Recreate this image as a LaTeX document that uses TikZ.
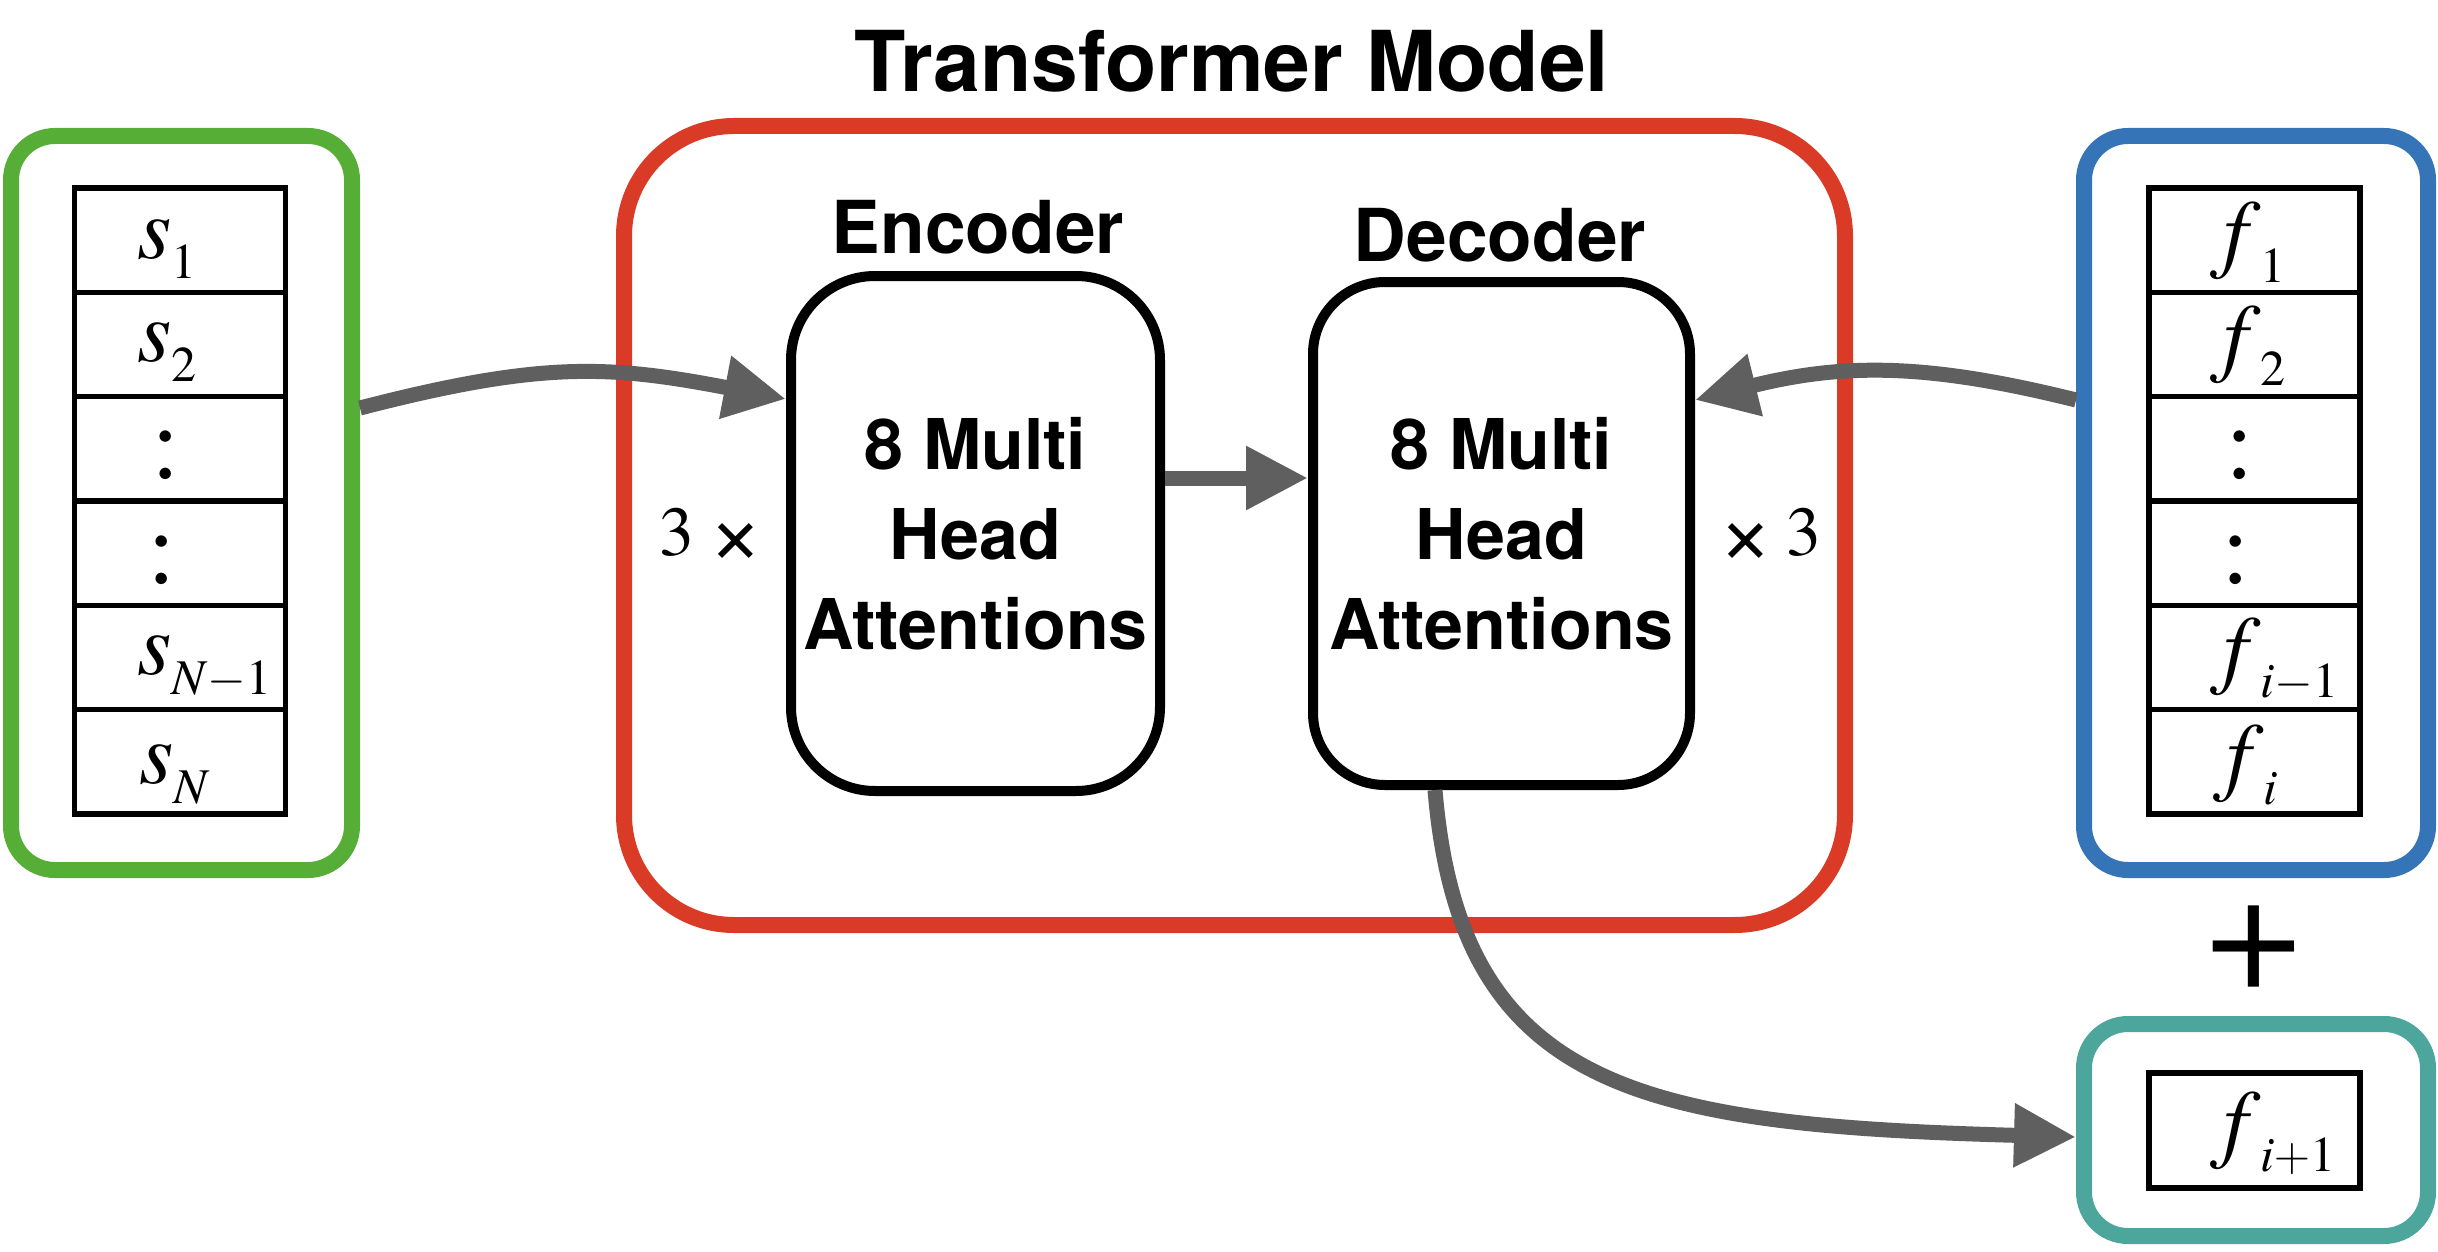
\documentclass[tikz,border=0pt]{standalone}
\usepackage{fontspec}
\setmainfont{texgyretermes}[Extension=.otf, UprightFont=*-regular, ItalicFont=*-italic, BoldFont=*-bold, BoldItalicFont=*-bolditalic]
\newfontfamily\hv{TeX Gyre Heros}
\usetikzlibrary{arrows.meta}
\definecolor{cgreen}{HTML}{56AE36}
\definecolor{cred}{HTML}{D93B27}
\definecolor{cblue}{HTML}{3574B6}
\definecolor{cteal}{HTML}{4CA69C}
\definecolor{cgray}{HTML}{5F5F5F}
\newcommand\mlab[2]{\textit{#1}\raisebox{-10pt}{\fontsize{25}{25}\selectfont #2}}
\newcommand\bigx{\raisebox{-4pt}{\fontsize{45}{45}\selectfont ×}}
\begin{document}
\begin{tikzpicture}[x=0.5pt,y=-0.5pt,
  frame/.style={draw, line width=8pt, rounded corners=22pt, inner sep=0pt},
  row/.style={draw, line width=2.75pt, inner sep=0pt, minimum width=105.5pt, minimum height=52.17pt},
  block/.style={draw, line width=5pt, inner sep=0pt, align=center, font=\hv\bfseries\fontsize{35}{45}\selectfont},
  lab/.style={font=\fontsize{44}{44}\selectfont, anchor=base west, inner sep=0pt},
  vdot/.style={font=\fontsize{52}{52}\selectfont, anchor=base, inner sep=0pt},
  head/.style={font=\hv\bfseries\fontsize{36.5}{36.5}\selectfont, anchor=base, inner sep=0pt},
  times/.style={font=\fontsize{35}{35}\selectfont, anchor=base, inner sep=0pt},
  arr/.style={draw=cgray, line width=7.5pt, -{Triangle[length=31pt,width=30pt]}},
]
\useasboundingbox (0,0) rectangle (2438,1252);
\fill[white] (0,0) rectangle (2438,1252);

% title
\node[font=\hv\bfseries\fontsize{42}{42}\selectfont, anchor=base, inner sep=0pt] (title) at (1232,92) {Transformer Model};

% outer frames
\node[frame, draw=cgreen, minimum width=170.5pt, minimum height=367pt] (green) at (181.5,503) {};
\node[frame, draw=cblue, minimum width=172pt, minimum height=367pt] (blue) at (2256,503) {};
\node[frame, draw=cteal, minimum width=172pt, minimum height=106pt] (teal) at (2256,1130) {};
\node[frame, draw=cred, rounded corners=55pt, minimum width=610.5pt, minimum height=399.5pt] (red) at (1234.5,525.5) {};

% encoder / decoder
\node[block, rounded corners=42pt, minimum width=184.5pt, minimum height=257.5pt] (enc) at (975.5,533.5) {8 Multi\\Head\\Attentions};
\node[block, rounded corners=36pt, minimum width=188.5pt, minimum height=251.5pt] (dec) at (1501.5,533.5) {8 Multi\\Head\\Attentions};
\node[head] (enclab) at (978,253) {Encoder};
\node[head] (declab) at (1500,261) {Decoder};
\node[times] (t3l) at (710,555) {3\hspace{8pt}\bigx};
\node[times] (t3r) at (1771,555) {\bigx\hspace{8pt}3};

% left table
\node[row] (sr1) at (180,240.2) {};
\node[row] (sr2) at (180,344.5) {};
\node[row] (sr3) at (180,448.8) {};
\node[row] (sr4) at (180,553.2) {};
\node[row] (sr5) at (180,657.5) {};
\node[row] (sr6) at (180,761.8) {};
\node[lab] (s1) at (137,258) {\mlab{s}{1}};
\node[lab] (s2) at (137,361) {\mlab{s}{2}};
\node[vdot] (sd1) at (166,478) {:};
\node[vdot] (sd2) at (162,583) {:};
\node[lab] (sn1) at (137,674) {\mlab{s}{\textit{N}$-$1}};
\node[lab] (sn) at (139,783) {\mlab{s}{\textit{N}}};

% right table
\node[row] (fr1) at (2254.5,240.2) {};
\node[row] (fr2) at (2254.5,344.5) {};
\node[row] (fr3) at (2254.5,448.8) {};
\node[row] (fr4) at (2254.5,553.2) {};
\node[row] (fr5) at (2254.5,657.5) {};
\node[row] (fr6) at (2254.5,761.8) {};
\node[lab] (f1) at (2223,262) {\mlab{f}{1}};
\node[lab] (f2) at (2223,365) {\mlab{f}{2}};
\node[vdot] (fd1) at (2240,478) {:};
\node[vdot] (fd2) at (2236,583) {:};
\node[lab] (fi1) at (2223,677) {\mlab{f}{\textit{i}$-$1}};
\node[lab] (fi) at (2226,784) {\mlab{f}{\textit{i}}};

% plus and next
\node[font=\fontsize{84}{84}\selectfont, anchor=center, inner sep=0pt] (plus) at (2254,947) {+};
\node[row, minimum height=57.5pt] (next) at (2254.5,1130.5) {};
\node[lab] (fnext) at (2223,1151) {\mlab{f}{\textit{i}$+$1}};

% connectors
\draw[arr] (green.east |- 0,408) .. controls +(182,-47) and +(-177,-34) .. (enc.west |- 0,399);
\draw[arr] (enc.east |- 0,478) -- (dec.west |- 0,478);
\draw[arr] (blue.west |- 0,400) .. controls +(-149,-37) and +(149,-37) .. (dec.east |- 0,400);
\draw[arr] (1435,0 |- dec.south) .. controls +(25,300) and +(-436,-12) .. (teal.west |- 0,1137);
\end{tikzpicture}
\end{document}
